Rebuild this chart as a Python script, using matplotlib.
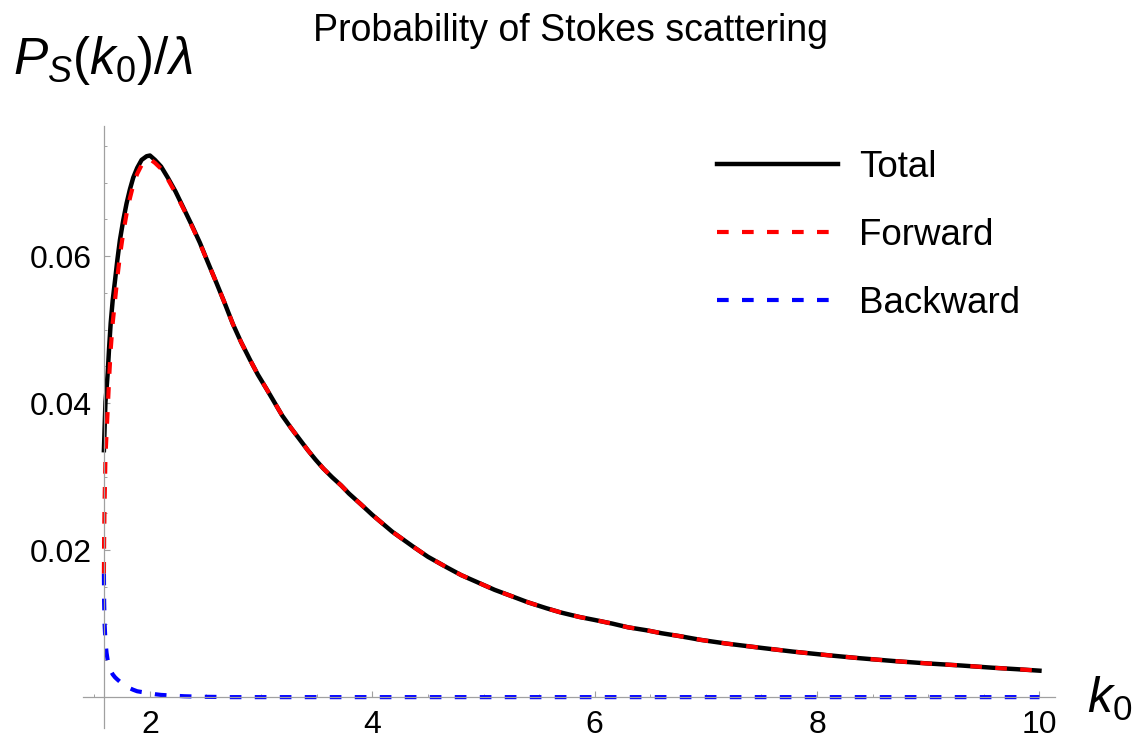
import numpy as np
import matplotlib
matplotlib.use("Agg")
import matplotlib.pyplot as plt
from matplotlib.ticker import MultipleLocator

plt.rcParams['font.family'] = ['Liberation Sans', 'DejaVu Sans']
plt.rcParams['mathtext.fontset'] = 'custom'
plt.rcParams['mathtext.rm'] = 'Liberation Sans'
plt.rcParams['mathtext.it'] = 'Liberation Sans:italic'

# values
k0 = [1.586, 1.588, 1.592, 1.600, 1.610, 1.620, 1.633, 1.647, 1.665, 1.686,
      1.707, 1.73, 1.76, 1.79, 1.82, 1.85, 1.885, 1.925, 1.97, 2.0,
      2.045, 2.1, 2.16, 2.23, 2.31, 2.38, 2.45, 2.52, 2.6, 2.67,
      2.745, 2.82, 2.90, 2.97, 3.05, 3.12, 3.19, 3.27, 3.35, 3.42,
      3.49, 3.56, 3.64, 3.72, 3.79, 3.9, 4.0, 4.18, 4.365, 4.5,
      4.665, 4.8, 4.965, 5.1, 5.26, 5.4, 5.565, 5.7, 5.865, 6.0,
      6.16, 6.3, 6.465, 6.6, 6.765, 6.95, 7.18, 7.5, 7.78, 8.1,
      8.38, 8.7, 8.98, 9.3, 9.58, 9.8, 10.0]
total = [0.0336, 0.0345, 0.0365, 0.0402, 0.0420, 0.0441, 0.0476, 0.0509, 0.0540, 0.0567,
         0.0595, 0.0622, 0.0649, 0.0672, 0.0691, 0.0707, 0.0720, 0.0731, 0.0736, 0.0737,
         0.0731, 0.0722, 0.0707, 0.0688, 0.0663, 0.0641, 0.0618, 0.0592, 0.0563, 0.0537,
         0.0508, 0.0483, 0.0459, 0.0439, 0.0419, 0.0401, 0.0383, 0.0366, 0.0350, 0.0336,
         0.0323, 0.0311, 0.0299, 0.0288, 0.0277, 0.0262, 0.0248, 0.0225, 0.0205, 0.0191,
         0.0177, 0.0166, 0.0155, 0.0146, 0.0137, 0.0129, 0.0121, 0.0115, 0.0109, 0.0105,
         0.0100, 0.0095, 0.0091, 0.0087, 0.0083, 0.0078, 0.0073, 0.0067, 0.0062, 0.0057,
         0.0053, 0.0049, 0.0046, 0.0043, 0.0040, 0.0038, 0.0036]
# forward and backward differ from total only below k0 ~ 2.6
forward_low = [0.0168, 0.0215, 0.0265, 0.0327, 0.0360, 0.0391, 0.0434, 0.0473, 0.0509, 0.0540,
               0.0571, 0.0601, 0.0632, 0.0658, 0.0679, 0.0697, 0.0712, 0.0724, 0.0730, 0.0732,
               0.0727, 0.0719, 0.0705, 0.0686, 0.0662, 0.0640, 0.0617, 0.0592, 0.0563]
backward_low = [0.0168, 0.0130, 0.0100, 0.0075, 0.0060, 0.0050, 0.0042, 0.0036, 0.0031, 0.0027,
                0.0024, 0.0021, 0.0017, 0.0014, 0.0012, 0.0010, 0.0008, 0.0007, 0.0006, 0.0005,
                0.0004, 0.0003, 0.00025, 0.00018, 0.00012, 0.00009, 0.00006, 0.00004, 0.00003]
n = len(forward_low)
forward = forward_low + total[n:]
backward = backward_low + [0.0] * (len(k0) - n)
labels = ['Total', 'Forward', 'Backward']

fig = plt.figure(figsize=(11.37, 7.44), dpi=100)
ax = fig.add_axes([0.0732, 0.0215, 0.8547, 0.809])

lw = 3.0
ax.plot(k0, total, color='black', lw=3.2, solid_joinstyle='round', label=labels[0])
ax.plot(k0, forward, color='#ff0000', lw=lw, dashes=[2.8, 3.2], label=labels[1])
ax.plot(k0, backward, color='#0000ff', lw=lw, dashes=[2.8, 3.2], label=labels[2])

ax.set_xlim(1.40, 10.14)
ax.set_ylim(-0.0042, 0.0777)

# Mathematica-style axes crossing at the origin of the plot
ax.spines['top'].set_visible(False)
ax.spines['right'].set_visible(False)
ax.spines['left'].set_position(('data', 1.586))
ax.spines['bottom'].set_position(('data', 0))
for s in ['left', 'bottom']:
    ax.spines[s].set_color('#a0a0a0')
    ax.spines[s].set_linewidth(0.9)

ax.set_xticks([2, 4, 6, 8, 10])
ax.set_xticklabels(['2', '4', '6', '8', '10'])
ax.xaxis.set_minor_locator(MultipleLocator(0.5))
ax.set_yticks([0.02, 0.04, 0.06])
ax.set_yticklabels(['0.02', '0.04', '0.06'])
ax.yaxis.set_minor_locator(MultipleLocator(0.005))
ax.tick_params(which='major', direction='in', length=4, width=0.8, color='#a0a0a0', labelsize=23)
ax.tick_params(which='minor', direction='in', length=2.3, width=0.7, color='#a0a0a0')
ax.tick_params(axis='x', which='major', pad=9)
ax.tick_params(axis='y', which='major', pad=9)

leg = ax.legend(loc='upper left', bbox_to_anchor=(717 / 1137, 1 - 150 / 744),
                bbox_transform=fig.transFigure, frameon=False, fontsize=26.5,
                handlelength=3.3, handletextpad=0.55, labelspacing=0.9,
                borderpad=0, borderaxespad=0)

fig.text(0.5015, 1 - 31 / 744, 'Probability of Stokes scattering', ha='center', va='center', fontsize=27)
fig.text(13 / 1137, 1 - 74 / 744, r'$P_S(k_0)/\lambda$', ha='left', va='baseline', fontsize=37)
fig.text(1087 / 1137, 1 - 713 / 744, r'$k_0$', ha='left', va='baseline', fontsize=36)

fig.savefig('out.png', dpi=100)
